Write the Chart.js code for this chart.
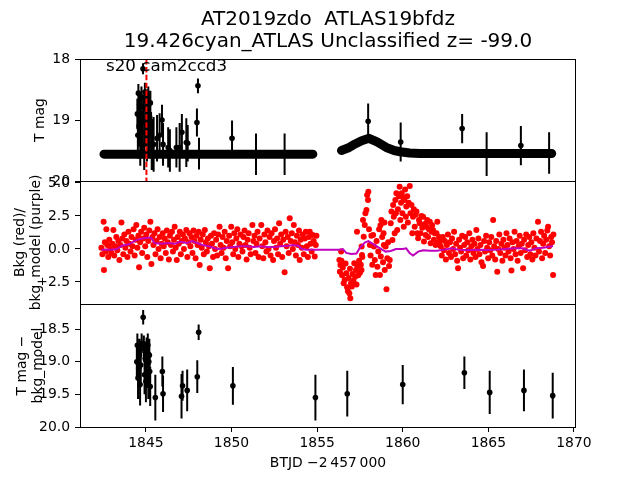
<!DOCTYPE html>
<html><head><meta charset="utf-8">
<script src="https://cdn.jsdelivr.net/npm/chart.js@4"></script>
<style>
html,body{margin:0;padding:0;background:#fff;}
#wrap{position:relative;width:640px;height:480px;background:#fff;}
canvas{position:absolute;left:0;top:0;}
</style></head><body>
<div id="wrap">
<canvas id="c1" width="640" height="480"></canvas>
<canvas id="c2" width="640" height="480"></canvas>
<canvas id="c3" width="640" height="480"></canvas>
</div>
<script>
// ---------------- text ----------------
const titleLines = ["AT2019zdo  ATLAS19bfdz", "19.426cyan_ATLAS Unclassified z= -99.0"];
const annoText = "s20 cam2ccd3";
const xLabel = "BTJD \u22122\u2009457\u2009000";
const yLabelTop = "T mag";
const yLabelMid = ["Bkg (red)/", "bkg_model (purple)"];
const yLabelBot = ["T mag \u2212", "bkg_model"];

// ---------------- ticks ----------------
const xTicks = [1845, 1850, 1855, 1860, 1865, 1870];
const yTicksTop = [18, 19, 20];
const yTicksMid = [-2.5, 0, 2.5, 5];
const yTicksBot = [18.5, 19.0, 19.5, 20.0];

// ---------------- data ----------------
const discoveryT = 1845.03;

// dense baseline of the light curve (T mag) – two orbits
const bandA = [[1842.55,19.56],[1844.0,19.56],[1846.0,19.56],[1848.0,19.56],[1850.0,19.56],[1852.0,19.56],[1854.75,19.56]];
const bandB = [[1856.42,19.50],[1856.8,19.46],[1857.1,19.41],[1857.6,19.34],[1858.03,19.30],[1858.5,19.36],[1859.04,19.45],[1859.5,19.50],[1859.85,19.52],[1860.4,19.54],[1861.0,19.55],[1865.0,19.55],[1868.7,19.55]];

// detections, top panel: [t, T mag, err]
const topDet = [
[1844.50,18.90,0.25],[1844.53,19.25,0.38],[1844.56,18.56,0.15],[1844.60,19.10,0.34],[1844.63,18.75,0.20],
[1844.67,19.35,0.40],[1844.70,19.00,0.30],[1844.74,18.62,0.17],[1844.78,19.20,0.36],[1844.83,18.16,0.09],
[1844.86,18.80,0.22],[1844.90,19.40,0.42],[1844.94,18.54,0.15],[1844.98,19.05,0.32],[1845.02,18.70,0.20],
[1845.06,19.30,0.38],[1845.10,18.85,0.24],[1845.14,18.62,0.17],[1845.18,19.15,0.34],[1845.22,18.95,0.28],
[1845.26,18.72,0.20],[1845.30,19.25,0.38],[1845.34,19.40,0.42],
[1845.45,19.40,0.45],[1845.65,19.30,0.38],[1845.80,19.25,0.36],[1845.94,19.00,0.25],[1846.00,19.40,0.35],
[1846.30,19.45,0.33],[1846.40,19.50,0.35],[1846.78,19.45,0.33],[1846.97,19.45,0.40],[1847.10,19.20,0.30],
[1847.36,19.37,0.40],[1847.44,19.38,0.30],[1847.98,19.04,0.23],[1848.04,18.44,0.12],[1848.10,19.55,0.26],
[1850.03,19.30,0.29],[1851.43,19.56,0.34],[1853.10,19.56,0.34],[1857.98,19.02,0.29],[1859.88,19.36,0.32],
[1863.47,19.14,0.24],[1864.90,19.56,0.36],[1866.90,19.42,0.32],[1868.55,19.54,0.34]
];

// background flux (red), orbit 1: [t, value]
const redA = [
[1842.40,0.1],[1842.46,-0.4],[1842.53,2.07],[1842.55,-1.59],[1842.60,0.5],[1842.66,-0.2],[1842.69,1.5],[1842.74,0.3],[1842.80,-0.6],[1842.86,0.7],
[1842.92,0.0],[1842.98,-0.3],[1843.04,0.4],[1843.10,1.44],[1843.15,-0.5],[1843.21,0.2],[1843.27,0.9],[1843.33,-0.1],[1843.39,0.6],[1843.45,-0.83],
[1843.51,0.3],[1843.57,2.0],[1843.62,0.8],[1843.68,-0.4],[1843.74,1.1],[1843.80,0.1],[1843.86,0.6],[1843.92,-0.6],[1843.98,1.3],[1844.04,0.4],
[1844.10,-0.2],[1844.16,0.9],[1844.22,0.2],[1844.28,1.5],[1844.34,-0.5],[1844.40,0.7],[1844.44,1.82],[1844.50,0.1],[1844.56,1.0],[1844.60,-1.39],
[1844.66,0.5],[1844.72,1.3],[1844.78,-0.3],[1844.84,0.8],[1844.90,1.6],[1844.96,0.2],[1845.02,1.1],[1845.08,-0.6],[1845.14,0.6],[1845.20,1.4],
[1845.26,2.07],[1845.32,-1.14],[1845.38,0.9],[1845.44,0.3],[1845.50,1.2],[1845.56,-0.4],[1845.62,0.6],[1845.68,1.5],[1845.74,0.0],[1845.80,0.9],
[1845.86,-0.7],[1845.92,0.4],[1845.98,1.2],[1846.04,0.2],[1846.10,0.8],[1846.16,-0.3],[1846.22,1.4],[1846.28,0.5],[1846.34,-0.8],[1846.40,1.0],
[1846.46,0.3],[1846.52,1.3],[1846.58,-0.2],[1846.64,0.7],[1846.68,1.69],[1846.74,0.1],[1846.80,-0.83],[1846.86,0.9],[1846.92,0.4],[1846.98,1.31],
[1847.04,-0.4],[1847.10,0.6],[1847.16,1.1],[1847.22,0.0],[1847.28,0.8],[1847.36,1.44],[1847.42,-0.6],[1847.48,0.5],[1847.54,1.2],[1847.60,0.2],
[1847.66,0.9],[1847.72,-0.3],[1847.78,1.4],[1847.84,0.6],[1847.90,-0.7],[1847.96,1.0],[1848.02,0.3],[1848.08,1.3],[1848.14,-1.21],[1848.20,0.7],
[1848.26,0.1],[1848.32,1.1],[1848.38,-0.4],[1848.44,1.44],[1848.50,0.5],[1848.56,-0.2],[1848.62,0.8],[1848.68,0.2],[1848.73,-1.46],[1848.80,1.0],
[1848.86,0.4],[1848.92,-0.6],[1848.98,1.2],[1849.04,0.0],[1849.10,0.7],[1849.16,-0.5],[1849.22,1.1],[1849.30,1.69],[1849.36,0.3],[1849.42,-0.3],
[1849.48,0.9],[1849.54,0.1],[1849.60,1.3],[1849.66,-0.7],[1849.72,0.6],[1849.80,-1.46],[1849.86,1.0],[1849.92,0.2],[1849.98,1.69],[1850.04,0.5],
[1850.10,-0.4],[1850.16,1.2],[1850.22,0.0],[1850.28,0.8],[1850.34,1.5],[1850.40,-0.6],[1850.46,0.4],[1850.52,1.1],[1850.58,0.2],[1850.64,-0.2],
[1850.70,0.9],[1850.76,1.4],[1850.82,0.3],[1850.88,-0.8],[1850.94,0.7],[1851.00,1.2],[1851.06,0.1],[1851.12,-0.4],[1851.22,1.82],[1851.28,0.6],
[1851.34,1.0],[1851.40,-0.3],[1851.46,0.4],[1851.52,1.3],[1851.58,-0.6],[1851.64,0.8],[1851.74,1.82],[1851.80,0.2],[1851.86,-0.7],[1851.92,1.1],
[1851.98,0.5],[1852.04,-0.2],[1852.10,1.4],[1852.16,0.0],[1852.22,0.9],[1852.28,-0.5],[1852.34,1.2],[1852.43,-0.83],[1852.48,0.6],[1852.54,1.5],
[1852.60,0.1],[1852.66,0.8],[1852.72,-0.4],[1852.78,1.94],[1852.84,0.4],[1852.90,1.1],[1852.96,-0.6],[1853.02,0.7],[1853.10,-1.77],[1853.16,1.3],
[1853.22,0.2],[1853.28,0.9],[1853.34,-0.3],[1853.40,2.32],[1853.46,0.6],[1853.52,1.2],[1853.58,0.0],[1853.64,1.82],[1853.70,0.5],[1853.76,-0.5],
[1853.82,1.0],[1853.88,0.3],[1853.94,1.4],[1853.98,-0.83],[1854.04,0.7],[1854.10,0.1],[1854.16,1.1],[1854.22,-0.4],[1854.28,0.8],[1854.34,1.3],
[1854.40,0.2],[1854.46,-0.6],[1854.52,0.9],[1854.57,1.31],[1854.62,0.4],[1854.68,-0.2],[1854.74,1.06],[1854.80,0.6],[1854.86,-0.58],[1854.92,0.3],[1854.96,1.0]
];

// background flux (red), orbit 2: [t, value]
const redB = [
[1856.30,-0.83],[1856.33,-1.72],[1856.36,-1.21],[1856.40,-0.2],[1856.42,-0.9],[1856.46,-2.0],[1856.50,-1.4],[1856.55,-2.6],[1856.61,-2.35],[1856.66,-1.1],
[1856.70,-1.84],[1856.75,-2.9],[1856.80,-3.2],[1856.84,-2.2],[1856.88,-3.36],[1856.92,-1.5],[1856.94,-3.74],[1856.98,-2.6],[1857.03,-2.85],[1857.07,-1.9],
[1857.12,-2.4],[1857.17,-1.09],[1857.22,-2.1],[1857.27,-1.6],[1857.30,-2.7],[1857.33,1.31],[1857.35,-1.3],[1857.40,-2.0],[1857.45,-0.9],[1857.50,-1.8],
[1857.55,-1.2],[1857.59,-1.59],[1857.60,0.18],[1857.62,-0.45],[1857.64,-0.6],[1857.68,2.2],[1857.72,0.93],[1857.78,1.82],[1857.82,2.7],[1857.88,2.95],
[1857.92,4.09],[1857.97,3.71],[1857.99,4.34],[1858.03,1.5],[1858.08,0.3],[1858.12,-0.5],[1858.17,1.0],[1858.22,-1.2],[1858.27,1.06],[1858.32,0.18],
[1858.37,-0.83],[1858.42,-1.97],[1858.47,0.6],[1858.52,-1.34],[1858.57,-0.2],[1858.62,1.5],[1858.67,-1.97],[1858.70,1.8],[1858.72,-0.58],[1858.75,2.2],
[1858.80,0.9],[1858.85,-1.0],[1858.88,1.2],[1858.90,0.3],[1858.93,2.0],[1858.95,-1.6],[1859.00,0.18],[1859.05,-3.06],[1859.10,-0.7],[1859.15,0.5],
[1859.20,-1.3],[1859.24,-0.83],[1859.30,1.94],[1859.34,2.83],[1859.40,0.68],[1859.44,3.33],[1859.48,2.45],[1859.53,1.19],[1859.57,3.71],[1859.60,2.7],
[1859.63,4.22],[1859.68,1.44],[1859.72,3.0],[1859.78,4.0],[1859.82,4.72],[1859.86,2.2],[1859.90,3.5],[1859.94,4.22],[1859.98,2.7],[1860.02,3.9],
[1860.06,1.69],[1860.10,3.71],[1860.14,4.5],[1860.18,2.45],[1860.21,3.21],[1860.26,4.0],[1860.30,2.0],[1860.35,3.5],[1860.41,4.77],[1860.45,2.7],
[1860.51,3.33],[1860.56,1.19],[1860.60,2.45],[1860.65,3.0],[1860.70,1.69],[1860.75,2.6],[1860.80,2.83],[1860.85,1.2],[1860.90,0.81],[1860.95,2.2],
[1860.99,1.94],[1861.04,1.19],[1861.09,2.5],[1861.14,1.6],[1861.19,2.45],[1861.24,0.56],[1861.29,1.9],[1861.34,1.06],[1861.38,1.69],[1861.43,2.2],
[1861.48,0.9],[1861.53,1.5],[1861.58,2.07],[1861.63,0.43],[1861.68,1.3],[1861.72,1.8],[1861.77,1.44],[1861.82,0.7],[1861.87,1.2],[1861.92,0.3],
[1861.97,1.19],[1862.02,2.07],[1862.07,0.5],[1862.12,0.9],[1862.16,0.56],
[1862.22,0.2],[1862.28,-0.5],[1862.34,0.9],[1862.40,-0.1],[1862.46,0.6],[1862.52,-0.8],[1862.58,0.3],[1862.64,1.1],[1862.70,-0.3],[1862.76,0.5],
[1862.82,-0.6],[1862.88,0.8],[1862.94,0.0],[1863.00,1.3],[1863.06,-0.4],[1863.12,0.4],[1863.18,-0.9],[1863.23,-1.46],[1863.29,0.7],[1863.35,0.1],
[1863.41,-0.2],[1863.47,1.0],[1863.53,-0.7],[1863.59,0.3],[1863.65,0.9],[1863.71,-0.5],[1863.77,0.5],[1863.83,-0.1],[1863.89,1.2],[1863.95,-0.8],
[1864.01,0.2],[1864.07,0.7],[1864.13,-0.3],[1864.19,0.4],[1864.25,-0.6],[1864.30,1.44],[1864.36,0.0],[1864.42,0.8],[1864.48,-0.4],[1864.54,0.3],
[1864.60,-1.0],[1864.69,-1.29],[1864.75,0.6],[1864.81,-0.2],[1864.87,1.0],[1864.93,0.1],[1864.99,-0.7],[1865.05,0.5],[1865.11,-0.1],[1865.17,0.9],
[1865.23,-0.5],[1865.28,2.2],[1865.34,0.2],[1865.40,-0.8],[1865.46,0.6],[1865.52,-1.72],[1865.58,0.0],[1865.64,1.1],[1865.70,-0.3],[1865.76,0.4],
[1865.82,-0.9],[1865.88,0.7],[1865.94,0.1],[1866.00,-0.5],[1866.06,1.2],[1866.12,0.3],[1866.18,-0.2],[1866.24,0.8],[1866.30,-0.7],[1866.35,-1.64],
[1866.41,0.5],[1866.47,0.0],[1866.53,1.3],[1866.59,-0.4],[1866.65,0.6],[1866.71,-0.9],[1866.77,0.2],[1866.83,1.0],[1866.89,-0.3],[1866.95,0.4],
[1867.03,-1.46],[1867.09,0.7],[1867.15,-0.1],[1867.21,1.1],[1867.27,-0.6],[1867.33,0.3],[1867.39,0.9],[1867.45,-0.4],[1867.51,0.5],[1867.57,-0.8],
[1867.63,1.2],[1867.69,0.1],[1867.75,-0.5],[1867.81,0.8],[1867.90,2.07],[1867.96,-0.2],[1868.02,0.6],[1868.08,1.3],[1868.14,-0.7],[1868.20,0.4],
[1868.26,1.0],[1868.32,-0.3],[1868.38,0.7],[1868.44,1.4],[1868.49,1.69],[1868.55,0.2],[1868.61,-0.5],[1868.67,0.9],[1868.72,0.5],[1868.78,-1.97],[1868.80,1.1]
];

// background model (purple): [t, value]
const bkgModel = [
[1842.40,-0.05],[1843.0,-0.05],[1843.3,0.0],[1843.6,0.25],[1844.0,0.35],[1844.4,0.65],[1844.8,0.80],[1845.1,0.85],[1845.3,0.85],[1845.5,0.45],
[1845.9,0.40],[1846.3,0.45],[1846.7,0.40],[1847.0,0.55],[1847.4,0.45],[1847.7,0.60],[1848.0,0.45],[1848.3,0.30],[1848.7,0.20],[1849.0,0.05],
[1849.3,0.0],[1849.7,0.10],[1850.1,0.15],[1850.5,0.20],[1850.9,0.20],[1851.3,0.15],[1851.7,0.20],[1852.1,0.15],[1852.5,0.15],[1852.9,0.20],
[1853.3,0.25],[1853.6,0.30],[1853.9,0.25],[1854.1,0.0],[1854.4,-0.05],[1855.0,-0.05],[1856.0,-0.05],[1856.3,-0.05],[1856.5,0.0],[1856.7,-0.3],
[1857.0,-0.38],[1857.3,-0.35],[1857.5,0.1],[1857.8,0.5],[1858.0,0.6],[1858.3,0.35],[1858.6,0.1],[1859.0,-0.2],[1859.3,-0.15],[1859.6,0.0],
[1860.0,0.0],[1860.2,0.05],[1860.4,-0.3],[1860.6,-0.5],[1860.9,-0.2],[1861.2,-0.1],[1861.6,-0.13],[1862.0,-0.13],[1862.4,-0.05],[1862.9,0.05],
[1863.2,-0.05],[1863.6,-0.08],[1864.0,-0.08],[1864.5,-0.05],[1865.0,-0.08],[1865.5,-0.05],[1866.0,0.0],[1866.5,0.05],[1867.0,0.05],[1867.4,-0.13],
[1867.8,0.05],[1868.2,0.1],[1868.78,0.23]
];

// detections, bottom panel: [t, T mag - bkg_model, err]
const botDet = [
[1844.84,18.32,0.11],[1844.47,19.00,0.28],[1844.50,18.75,0.18],[1844.54,19.25,0.32],[1844.58,19.10,0.30],[1844.62,18.90,0.25],
[1844.66,19.35,0.32],[1844.70,19.05,0.30],[1844.75,18.72,0.15],[1844.88,18.80,0.20],[1844.92,19.20,0.30],[1844.96,18.95,0.26],
[1845.00,19.30,0.32],[1845.04,18.85,0.22],[1845.08,19.10,0.30],[1845.11,18.75,0.18],[1845.14,19.25,0.32],[1845.17,19.00,0.28],
[1845.20,18.90,0.25],[1845.22,19.15,0.30],[1845.25,19.38,0.30],
[1845.55,19.55,0.35],[1845.96,19.15,0.23],[1846.00,19.49,0.28],[1847.08,19.53,0.34],[1847.14,19.37,0.23],[1847.41,19.44,0.32],
[1848.00,19.23,0.25],[1848.08,18.55,0.12],[1850.08,19.37,0.29],[1854.90,19.55,0.35],[1856.76,19.49,0.35],[1860.00,19.35,0.30],
[1863.60,19.17,0.25],[1865.08,19.47,0.33],[1867.08,19.44,0.32],[1868.76,19.52,0.35]
];

// ---------------- helpers ----------------
const FONT = '"DejaVu Sans", sans-serif';
const X_MIN = 1841.15, X_MAX = 1870.12;
const pts = list => list.map(p => ({x: p[0], y: p[1]}));
const joinSeg = (...segs) => { const out = []; segs.forEach((s, i) => { if (i) out.push({x: s[0][0], y: null}); s.forEach(p => out.push({x: p[0], y: p[1]})); }); return out; };
const errBars = list => { const out = []; list.forEach(([t, m, e]) => { out.push({x: t, y: m - e}, {x: t, y: m + e}, {x: t, y: null}); }); return out; };

const boxPlugin = {id: 'box', afterDatasetsDraw(chart) {
  const {ctx, chartArea: a} = chart;
  ctx.save(); ctx.strokeStyle = '#000'; ctx.lineWidth = 1;
  ctx.strokeRect(Math.round(a.left) + 0.5, Math.round(a.top) + 0.5, Math.round(a.width) - 1, Math.round(a.height));
  ctx.restore();
}};
const annoPlugin = {id: 'anno', afterDatasetsDraw(chart) {
  const {ctx, chartArea: a} = chart;
  ctx.save(); ctx.font = '16.7px ' + FONT; ctx.fillStyle = '#000'; ctx.textBaseline = 'alphabetic'; ctx.textAlign = 'left';
  ctx.fillText(annoText, a.left + 26, a.top + 12);
  ctx.restore();
}};

function xScale(show) {
  const s = {type: 'linear', min: X_MIN, max: X_MAX, display: show};
  if (show) Object.assign(s, {
    afterFit: sc => { sc.height = 53; },
    afterBuildTicks: sc => { sc.ticks = xTicks.map(v => ({value: v})); },
    ticks: {color: '#000', font: {family: FONT, size: 13.9}, padding: 3, maxRotation: 0, autoSkip: false, callback: v => String(v)},
    grid: {display: true, drawOnChartArea: false, drawTicks: true, tickLength: 5, color: '#000'},
    border: {display: false},
    title: {display: true, text: xLabel, color: '#000', font: {family: FONT, size: 13.9, lineHeight: 1.2}, padding: {top: 0, bottom: 8.6}}
  });
  return s;
}
function yScale(min, max, ticks, fmt, title, titlePad, reverse) {
  return {type: 'linear', min, max, reverse,
    afterFit: sc => { sc.width = 80; },
    afterBuildTicks: sc => { sc.ticks = ticks.map(v => ({value: v})); },
    ticks: {color: '#000', font: {family: FONT, size: 13.9}, padding: 5, autoSkip: false, callback: fmt},
    grid: {display: true, drawOnChartArea: false, drawTicks: true, tickLength: 5, color: '#000'},
    border: {display: false},
    title: {display: true, text: title, color: '#000', font: {family: FONT, size: 13.9, lineHeight: 1.2}, padding: {top: titlePad, bottom: 0}}
  };
}
const common = (pad) => ({
  responsive: false, animation: false, devicePixelRatio: 1, events: [],
  layout: {padding: pad, autoPadding: false},
});

// ---------------- chart 1: T mag ----------------
new Chart(document.getElementById('c1'), {
  type: 'scatter',
  data: {datasets: [
    {data: [{x: discoveryT, y: 18}, {x: discoveryT, y: 20}], showLine: true, borderColor: '#ff0000', borderWidth: 2, borderDash: [5.5, 2.4], pointRadius: 0},
    {data: pts(topDet), pointRadius: 2.8, pointBackgroundColor: '#000', pointBorderWidth: 0},
    {data: errBars(topDet), showLine: true, borderColor: '#000', borderWidth: 2, pointRadius: 0, spanGaps: false},
    {data: joinSeg(bandA, bandB), showLine: true, borderColor: '#000', borderWidth: 9, borderCapStyle: 'round', borderJoinStyle: 'round', pointRadius: 0, spanGaps: false}
  ]},
  options: Object.assign(common({left: 0, right: 64, top: 0, bottom: 299}), {
    scales: {x: xScale(false), y: yScale(18, 20, yTicksTop, v => String(v), yLabelTop, 31.6, true)},
    plugins: {legend: {display: false}, tooltip: {enabled: false},
      title: {display: true, text: titleLines, fullSize: false, color: '#000', font: {family: FONT, size: 20, weight: 'normal', lineHeight: 1.1}, padding: {top: 9, bottom: 6}}}
  }),
  plugins: [boxPlugin, annoPlugin]
});

// ---------------- chart 2: background ----------------
const fmtMid = v => (v < 0 ? '\u2212' : '') + Math.abs(v).toFixed(1);
new Chart(document.getElementById('c2'), {
  type: 'scatter',
  data: {datasets: [
    {data: pts(bkgModel), showLine: true, borderColor: '#bf00bf', borderWidth: 2, pointRadius: 0},
    {data: pts(redA).concat(pts(redB)), pointRadius: 3, pointBackgroundColor: '#ff0000', pointBorderWidth: 0}
  ]},
  options: Object.assign(common({left: 0, right: 64, top: 181, bottom: 176}), {
    scales: {x: xScale(false), y: yScale(-4.17, 5.15, yTicksMid, fmtMid, yLabelMid, 11.6, false)},
    plugins: {legend: {display: false}, tooltip: {enabled: false}}
  }),
  plugins: [boxPlugin]
});

// ---------------- chart 3: T mag - bkg_model ----------------
new Chart(document.getElementById('c3'), {
  type: 'scatter',
  data: {datasets: [
    {data: pts(botDet), pointRadius: 2.8, pointBackgroundColor: '#000', pointBorderWidth: 0},
    {data: errBars(botDet), showLine: true, borderColor: '#000', borderWidth: 2, pointRadius: 0, spanGaps: false}
  ]},
  options: Object.assign(common({left: 0, right: 64, top: 304, bottom: 0}), {
    scales: {x: xScale(true), y: yScale(18.117, 20, yTicksBot, v => v.toFixed(1), yLabelBot, 13.6, true)},
    plugins: {legend: {display: false}, tooltip: {enabled: false}}
  }),
  plugins: [boxPlugin]
});
</script>
</body></html>
